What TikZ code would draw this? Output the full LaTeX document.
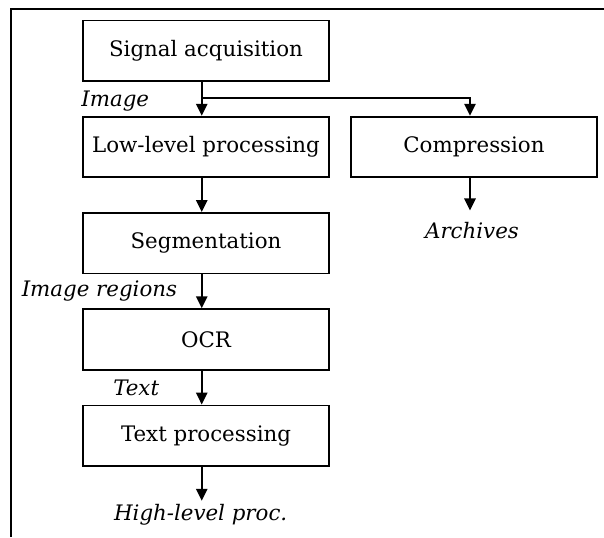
\documentclass[tikz,border=0pt]{standalone}
\usepackage{fontspec}
\setmainfont{DejaVu Serif}
\usetikzlibrary{positioning}
\usetikzlibrary{arrows.meta}

\begin{document}
\begin{tikzpicture}[
            > = {Triangle[width=8.5pt,length=9pt]}, % arrow head style
            x = 0.75pt, y = -0.75pt, % screen grid, y runs down
            node distance = 72.2pt, % distance between box centres
            line width = 1.4pt
        ]

        \tikzstyle{stage}=[
            draw,
            minimum width = 185pt,
            minimum height = 45.4pt,
            inner sep = 0pt,
            font = \fontsize{16}{19}\selectfont
        ]
        \tikzstyle{lbl}=[
            inner sep = 0pt,
            font = \fontsize{16}{19}\selectfont\itshape
        ]

        \useasboundingbox (0,0) rectangle (604,537);
        \draw[line width = 1.9pt] (11,537) -- (11,9) -- (604,9);

	% processing chain
        \node[stage] (Sig) at (206,50.7) {Signal acquisition};
        \node[stage] (Low) [below of = Sig] {Low-level processing};
        \node[stage] (Seg) [below of = Low] {Segmentation};
        \node[stage] (Ocr) [below of = Seg] {OCR};
        \node[stage] (Txt) [below of = Ocr] {Text processing};
        \node[lbl, inner ysep = 2pt] (High) [below of = Txt, node distance = 59.3pt, xshift = -4pt] {High-level proc.};

        \path[->] ([xshift=-3.2pt]Sig.south) edge node[lbl, left=38.8pt, yshift=-2pt] {Image} ([xshift=-3.2pt]Low.north);
        \path[->] ([xshift=-3.2pt]Low.south) edge ([xshift=-3.2pt]Seg.north);
        \path[->] ([xshift=-3.2pt]Seg.south) edge node[lbl, left=17.8pt] {Image regions} ([xshift=-3.2pt]Ocr.north);
        \path[->] ([xshift=-3.2pt]Ocr.south) edge node[lbl, left=31.3pt] {Text} ([xshift=-3.2pt]Txt.north);
        \path[->] ([xshift=-3.2pt]Txt.south) edge ([xshift=-3.2pt]Txt.south |- High.north);

	% archive branch
        \node[stage] (Comp) [right of = Low, node distance = 201pt] {Compression};
        \node[lbl, inner ysep = 8.5pt] (Arch) [below of = Comp, node distance = 63pt, xshift = -1.5pt] {Archives};

        \coordinate (Jn) at ([xshift=-3.2pt,yshift=-12pt]Sig.south);
        \draw[->] (Jn) -| ([xshift=-3pt]Comp.north);
        \path[->] ([xshift=-3pt]Comp.south) edge ([xshift=-3pt]Comp.south |- Arch.north);

\end{tikzpicture}
\end{document}
